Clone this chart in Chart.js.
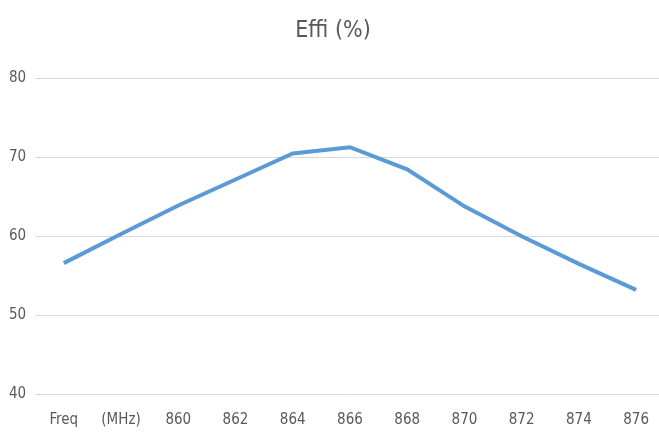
<!DOCTYPE html>
<html>
<head>
<meta charset="utf-8">
<script src="https://cdn.jsdelivr.net/npm/chart.js@4/dist/chart.umd.min.js"></script>
<style>
  html, body { margin: 0; padding: 0; background: #fff; overflow: hidden; }
  #wrap { width: 666px; height: 434px; }
</style>
</head>
<body>
<div id="wrap"><canvas id="chart"></canvas></div>
<script>
const categories = ['Freq', '(MHz)', '860', '862', '864', '866', '868', '870', '872', '874', '876'];
const effiValues = [56.6, 60.3, 63.9, 67.2, 70.5, 71.3, 68.5, 63.8, 60.0, 56.5, 53.2];
const yTicks = [40, 50, 60, 70, 80];

const fontFamily = "'Liberation Sans Narrow', 'DejaVu Sans Condensed', 'Open Sans', sans-serif";
const textColor = '#595959';

const ctx = document.getElementById('chart').getContext('2d');

new Chart(ctx, {
  type: 'line',
  data: {
    labels: categories,
    datasets: [{
      label: 'Effi (%)',
      data: effiValues,
      borderColor: '#5b9bd5',
      borderWidth: 4,
      pointRadius: 0,
      tension: 0,
      fill: false
    }]
  },
  options: {
    responsive: true,
    maintainAspectRatio: false,
    animation: false,
    layout: { padding: { top: 8, left: 0, right: 0, bottom: 4 } },
    plugins: {
      legend: { display: false },
      tooltip: { enabled: false },
      title: {
        display: true,
        text: 'Effi (%)',
        color: textColor,
        font: { family: fontFamily, size: 23, weight: 'normal' },
        padding: { top: 9, bottom: 34 }
      }
    },
    scales: {
      x: {
        offset: true,
        grid: { display: false, drawTicks: false },
        border: { display: false },
        afterFit: scale => { scale.height = 36; },
        ticks: {
          color: textColor,
          font: { family: fontFamily, size: 15 },
          maxRotation: 0,
          autoSkip: false,
          padding: 17
        }
      },
      y: {
        min: 40,
        max: 80,
        afterBuildTicks: axis => { axis.ticks = yTicks.map(v => ({ value: v })); },
        grid: { color: '#d9d9d9', lineWidth: 1, drawTicks: false },
        border: { display: false },
        ticks: {
          color: textColor,
          font: { family: fontFamily, size: 15 },
          padding: 9
        }
      }
    }
  }
});
</script>
</body>
</html>
